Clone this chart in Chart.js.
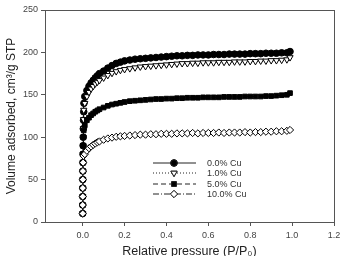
<!DOCTYPE html>
<html>
<head>
<meta charset="utf-8">
<script src="https://cdn.jsdelivr.net/npm/chart.js@4/dist/chart.umd.min.js"></script>
<style>
  html, body { margin: 0; padding: 0; background: #fff; }
  #wrap { width: 345px; height: 256px; }
</style>
</head>
<body>
<div id="wrap"><canvas id="myChart"></canvas></div>
<script>
// series names
const labels = ["0.0% Cu", "1.0% Cu", "5.0% Cu", "10.0% Cu"];

// low pressure points (stack at P/Po ~ 0)
const lowP0 = [0.0001, 0.0002, 0.0003, 0.0005, 0.0007, 0.001, 0.0013, 0.0017, 0.002, 0.0025, 0.003, 0.004, 0.005, 0.006];
const lowV0 = [10, 20, 30, 40, 50, 60, 70, 80, 90, 100, 110, 120, 130, 140];
const lowP1 = [0.0001, 0.0002, 0.0003, 0.0005, 0.0007, 0.001, 0.0013, 0.0017, 0.002, 0.0025, 0.003, 0.004, 0.005];
const lowV1 = [10, 20, 30, 40, 50, 60, 70, 80, 90, 100, 110, 121, 132];
const lowP5 = [0.0001, 0.0002, 0.0003, 0.0005, 0.0007, 0.001, 0.0013, 0.0017, 0.002, 0.003, 0.005];
const lowV5 = [10, 20, 30, 40, 50, 60, 70, 80, 90, 100, 108];
const lowP10 = [0.0001, 0.0002, 0.0003, 0.0005, 0.0007, 0.001, 0.002, 0.004];
const lowV10 = [10, 20, 30, 40, 50, 60, 70, 78];

// main part of the isotherms
const pressure = [0.01, 0.02, 0.03, 0.04, 0.05, 0.06, 0.07, 0.08, 0.1, 0.12, 0.14, 0.16, 0.18, 0.2,
  0.225, 0.25, 0.275, 0.3, 0.325, 0.35, 0.375, 0.4, 0.425, 0.45, 0.475, 0.5, 0.525, 0.55, 0.575, 0.6,
  0.625, 0.65, 0.675, 0.7, 0.725, 0.75, 0.775, 0.8, 0.825, 0.85, 0.875, 0.9, 0.925, 0.95, 0.975, 0.99];
const cu0 = [148, 155, 160, 164, 167, 170, 172.5, 175, 178, 181.5, 184.5, 187, 188.5, 190,
  191, 192, 192.5, 193, 193.5, 194, 194.5, 195, 195.5, 196, 196, 196.5, 196.5, 197, 197, 197,
  197.5, 197.5, 197.5, 198, 198, 198, 198, 198.5, 198.5, 198.5, 199, 199, 199, 199.5, 199.5, 201];
const cu1 = [140, 148, 153, 157, 160, 163, 165, 167, 170, 173, 175.5, 177.5, 179, 180,
  181, 182, 183, 183.5, 184, 184.5, 185, 185.5, 186, 186.5, 187, 187, 187.5, 187.5, 188, 188,
  188, 188.5, 188.5, 188.5, 189, 189, 189, 189.5, 189.5, 190, 190, 190.5, 190.5, 191, 191.5, 194];
const cu5 = [114, 120, 123, 126, 128, 130, 131.5, 133, 135, 137, 138.5, 139.5, 140.5, 141.5,
  142.5, 143, 143.5, 144, 144.5, 145, 145, 145.5, 145.5, 146, 146, 146.5, 146.5, 146.5, 147, 147,
  147, 147, 147.5, 147.5, 147.5, 147.5, 148, 148, 148, 148, 148.5, 148.5, 149, 149.5, 150, 152];
const cu10 = [80, 84, 87, 89, 91, 92.5, 94, 95, 97, 98.5, 99.5, 100.5, 101, 101.5,
  102, 102.5, 103, 103, 103.5, 103.5, 104, 104, 104, 104.5, 104.5, 104.5, 105, 104.5, 105, 105,
  105, 105.5, 105, 105.5, 105.5, 105.5, 106, 105.5, 106, 106, 106.5, 106.5, 107, 107, 107.5, 108.5];

// x tick labels
const xTicks = [0.0, 0.2, 0.4, 0.6, 0.8, 1.0, 1.2];

let toPoints = (lowP, lowV, vals) => {
  const pts = lowP.map((p, i) => ({ x: p, y: lowV[i] }));
  pressure.forEach((p, i) => pts.push({ x: p, y: vals[i] }));
  return pts;
};

const styles = [
  { pointStyle: "circle", fill: "#000", dash: [], rot: 0, radius: 3.3 },
  { pointStyle: "triangle", fill: "#fff", dash: [1, 2], rot: 180, radius: 3.6 },
  { pointStyle: "rect", fill: "#000", dash: [5, 3], rot: 0, radius: 3.3 },
  { pointStyle: "rectRot", fill: "#fff", dash: [6, 2, 1, 2], rot: 0, radius: 3.6 }
];

const seriesData = [
  toPoints(lowP0, lowV0, cu0),
  toPoints(lowP1, lowV1, cu1),
  toPoints(lowP5, lowV5, cu5),
  toPoints(lowP10, lowV10, cu10)
];

/* custom legend with line + marker like the original */
const legendBox = {
  id: "legendBox",
  afterDraw(chart) {
    const ctx = chart.ctx;
    const rows = [163, 173, 184, 194];
    ctx.save();
    labels.forEach((lab, i) => {
      const s = styles[i];
      const y = rows[i];
      ctx.strokeStyle = "#222";
      ctx.lineWidth = 1;
      ctx.setLineDash(s.dash);
      ctx.beginPath();
      ctx.moveTo(153, y);
      ctx.lineTo(196, y);
      ctx.stroke();
      ctx.setLineDash([]);
      ctx.fillStyle = s.fill;
      Chart.helpers.drawPoint(ctx, {
        pointStyle: s.pointStyle, radius: s.radius, rotation: s.rot, borderWidth: 1
      }, 174, y);
      ctx.fill();
      ctx.stroke();
      ctx.fillStyle = "#333";
      ctx.font = "9px 'Liberation Sans', Arial, sans-serif";
      ctx.textBaseline = "middle";
      ctx.fillText(lab, 207, y + 0.5);
    });
    ctx.restore();
  }
};

/* frame around the plot area */
const frame = {
  id: "frame",
  afterDatasetsDraw(chart) {
    const a = chart.chartArea;
    const ctx = chart.ctx;
    ctx.save();
    ctx.strokeStyle = "#555";
    ctx.lineWidth = 1;
    ctx.strokeRect(a.left + 0.5, a.top + 0.5, a.right - a.left, a.bottom - a.top);
    ctx.restore();
  }
};

const ctx = document.getElementById("myChart");
new Chart(ctx, {
  type: "line",
  data: {
    datasets: seriesData.map((d, i) => ({
      label: labels[i],
      data: d,
      order: 3 - i,
      borderColor: "#111",
      borderWidth: 1,
      borderDash: styles[i].dash,
      pointStyle: styles[i].pointStyle,
      pointRotation: styles[i].rot,
      pointRadius: styles[i].radius,
      pointBackgroundColor: styles[i].fill,
      pointBorderColor: "#000",
      pointBorderWidth: 1,
      fill: false,
      tension: 0
    }))
  },
  options: {
    responsive: true,
    maintainAspectRatio: false,
    animation: false,
    layout: { padding: { left: 0, right: 11, top: 10, bottom: 0 } },
    plugins: { legend: { display: false }, tooltip: { enabled: false } },
    scales: {
      x: {
        type: "linear",
        min: -0.18,
        max: 1.2,
        afterBuildTicks: (axis) => { axis.ticks = xTicks.map((v) => ({ value: v })); },
        afterFit: (axis) => { axis.height = 34; },
        grid: { drawOnChartArea: false, drawTicks: true, tickLength: 4, color: "#555" },
        border: { color: "#555" },
        ticks: {
          color: "#444",
          font: { family: "'Liberation Sans', Arial, sans-serif", size: 9 },
          padding: 4,
          maxRotation: 0,
          callback: (v) => v.toFixed(1)
        },
        title: {
          display: true,
          text: "Relative pressure (P/P\u2080)",
          color: "#222",
          font: { family: "'Liberation Sans', Arial, sans-serif", size: 12.5 },
          padding: { top: 7, bottom: -3 }
        }
      },
      y: {
        min: 0,
        max: 250,
        afterFit: (axis) => { axis.width = 45; },
        ticks: {
          stepSize: 50,
          color: "#444",
          font: { family: "'Liberation Sans', Arial, sans-serif", size: 9 },
          padding: 3
        },
        grid: { drawOnChartArea: false, drawTicks: true, tickLength: 4, color: "#555" },
        border: { color: "#555" },
        title: {
          display: true,
          text: "Volume adsorbed, cm\u00b3/g STP",
          color: "#222",
          font: { family: "'Liberation Sans', Arial, sans-serif", size: 12 },
          padding: { top: 4, bottom: 0 }
        }
      }
    }
  },
  plugins: [frame, legendBox]
});
</script>
</body>
</html>
